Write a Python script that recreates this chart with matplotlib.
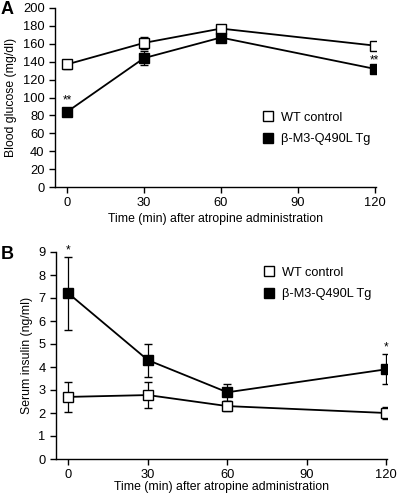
import matplotlib
matplotlib.use("Agg")
import matplotlib.pyplot as plt
import numpy as np

plt.rcParams['font.family'] = ['Liberation Sans', 'DejaVu Sans']

time = [0, 30, 60, 120]
xticks = [0, 30, 60, 90, 120]

glu_wt = [137, 161, 177, 158]
glu_wt_err = [5, 7, 3, 3]
glu_tg = [84, 144, 167, 132]
glu_tg_err = [3, 8, 4, 3]

ins_wt = [2.7, 2.78, 2.3, 2.0]
ins_wt_err = [0.65, 0.55, 0.22, 0.25]
ins_tg = [7.2, 4.3, 2.9, 3.9]
ins_tg_err = [1.6, 0.72, 0.38, 0.65]

labels = ['WT control', 'β-M3-Q490L Tg']
xlabel = 'Time (min) after atropine administration'

W, H = 400, 497
fig = plt.figure(figsize=(W/100, H/100), dpi=100)

def ax_rect(l, t, r, b):
    return [l/W, 1 - b/H, (r-l)/W, (b-t)/H]

fs_tick = 9.3
fs_lab = 8.8
fs_leg = 9.2

def style(ax):
    for s in ['top', 'right']:
        ax.spines[s].set_visible(False)
    for s in ['left', 'bottom']:
        ax.spines[s].set_linewidth(1.0)
    ax.tick_params(direction='out', length=4, width=1.0, labelsize=fs_tick)

def plot_series(ax, y, err, face):
    ax.errorbar(time, y, yerr=err, color='black', lw=1.3, capsize=3,
                elinewidth=0.9, capthick=0.9, marker='s', markersize=6.5,
                markerfacecolor=face, markeredgecolor='black', markeredgewidth=1.0,
                zorder=3)

hA = [plt.Line2D([], [], ls='none', marker='s', markersize=6.5, markerfacecolor=f,
                 markeredgecolor='black') for f in ['white', 'black']]

def add_legend(ax, x, y):
    ax.legend(hA, labels, loc='center left', bbox_to_anchor=(x, y), frameon=False,
              fontsize=fs_leg, handlelength=0.8, handletextpad=0.6, labelspacing=0.75,
              borderaxespad=0, borderpad=0)

# Panel A
axA = fig.add_axes(ax_rect(55, 8, 376, 187))
style(axA)
plot_series(axA, glu_wt, glu_wt_err, 'white')
plot_series(axA, glu_tg, glu_tg_err, 'black')
axA.set_xlim(-4.7, 120.5)
axA.set_ylim(0, 200)
axA.set_yticks(np.arange(0, 201, 20))
axA.set_xticks(xticks)
axA.set_ylabel('Blood glucose (mg/dl)', fontsize=fs_lab, labelpad=4)
axA.set_xlabel(xlabel, fontsize=fs_lab, labelpad=2.5)
axA.text(0, glu_tg[0] + 13, '**', ha='center', va='center', fontsize=8.5, clip_on=False)
axA.text(120, glu_tg[3] + 9.5, '**', ha='center', va='center', fontsize=8.5, clip_on=False)
add_legend(axA, 0.647, (187 - 128.5) / (187 - 8))
fig.text(1/W, 1 - 1/H, 'A', fontsize=13, fontweight='bold', ha='left', va='top')

# Panel B
axB = fig.add_axes(ax_rect(56, 252, 387, 459))
style(axB)
plot_series(axB, ins_wt, ins_wt_err, 'white')
plot_series(axB, ins_tg, ins_tg_err, 'black')
axB.set_xlim(-4.7, 120.3)
axB.set_ylim(0, 9)
axB.set_yticks(np.arange(0, 10, 1))
axB.set_xticks(xticks)
axB.set_ylabel('Serum insulin (ng/ml)', fontsize=fs_lab, labelpad=4)
axB.set_xlabel(xlabel, fontsize=fs_lab, labelpad=-0.5)
axB.text(0, ins_tg[0] + ins_tg_err[0] + 0.27, '*', ha='center', va='center', fontsize=8.5, clip_on=False)
axB.text(120, ins_tg[3] + ins_tg_err[3] + 0.3, '*', ha='center', va='center', fontsize=8.5, clip_on=False)
add_legend(axB, 0.628, (459 - 283.5) / (459 - 252))
fig.text(1/W, 1 - 246/H, 'B', fontsize=13, fontweight='bold', ha='left', va='top')

fig.savefig('out.png', dpi=100)
